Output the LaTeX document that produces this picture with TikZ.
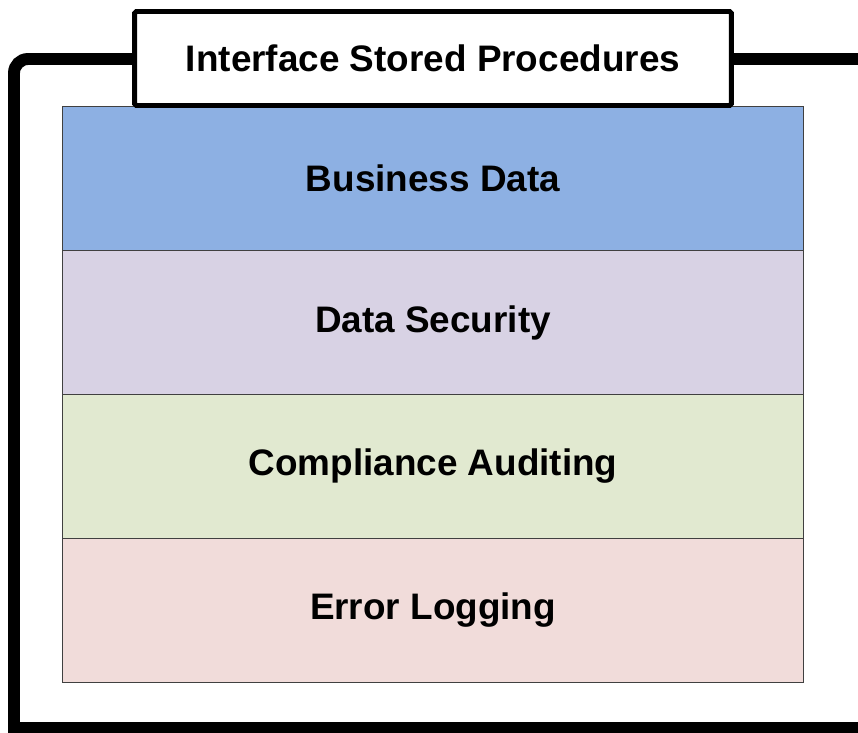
\documentclass[tikz,border=0pt]{standalone}
\usepackage{fontspec}
\setmainfont{Liberation Sans}
\usetikzlibrary{positioning}

\definecolor{bizblue}{HTML}{8DB0E3}
\definecolor{seclilac}{HTML}{D8D2E4}
\definecolor{auditgreen}{HTML}{E1E9D0}
\definecolor{logpink}{HTML}{F1DCDA}

\begin{document}
\begin{tikzpicture}[
    x=0.02cm, y=-0.02cm,
    frame/.style={line width=6.8pt},
    titlebox/.style={draw, fill=white, line width=2.8pt, rounded corners=1pt,
        minimum width=11.94cm, minimum height=1.88cm, font=\fontsize{21}{25}\selectfont\bfseries},
    layer/.style={draw=black!75, line width=0.6pt, outer sep=0pt, minimum width=14.84cm,
        minimum height=2.88cm, font=\fontsize{21}{25}\selectfont\bfseries}
]
\useasboundingbox (0,0) rectangle (858,733);
\clip (0,0) rectangle (858,733);
% outer frame, runs off the page on the right and bottom
\coordinate (topend) at (900,59);
\coordinate (botend) at (900,728);
\draw[frame] (topend) {[rounded corners=8pt] -- (14,59)} -- (14,728) -- (botend);
% stacked layers
\node[layer, fill=bizblue] (biz) at (433,178.5) {Business Data};
\node[layer, fill=seclilac, below=0pt of biz] (sec) {Data Security};
\node[layer, fill=auditgreen, below=0pt of sec] (audit) {Compliance Auditing};
\node[layer, fill=logpink, below=0pt of audit] (log) {Error Logging};
% title on top of the frame
\node[titlebox] (title) at (433,58.5) {Interface Stored Procedures};
\end{tikzpicture}
\end{document}
